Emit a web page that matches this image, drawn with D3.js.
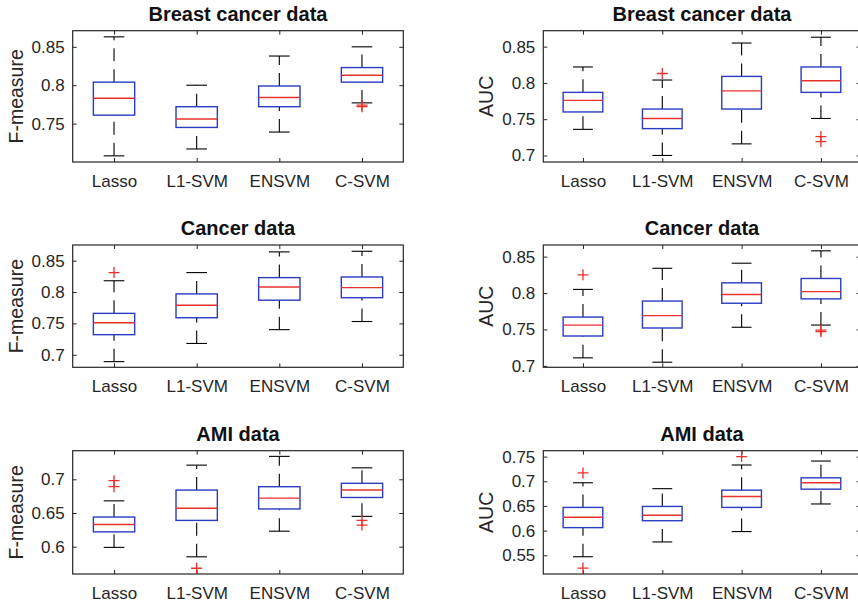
<!DOCTYPE html>
<html>
<head>
<meta charset="utf-8">
<script src="https://cdn.jsdelivr.net/npm/d3@7"></script>
<style>
  body { margin: 0; background: #fff; }
  svg { display: block; font-family: "Liberation Sans", Arial, Helvetica, sans-serif; }
</style>
</head>
<body>
<div id="chart"></div>
<script>
const width = 858;
const height = 605;

const methods = ["Lasso", "L1-SVM", "ENSVM", "C-SVM"];

// each row: [lower whisker, q1, median, q3, upper whisker]
const breastF = [
  [0.708, 0.761, 0.783, 0.804, 0.863],
  [0.717, 0.745, 0.756, 0.772, 0.800],
  [0.739, 0.772, 0.784, 0.799, 0.838],
  [0.777, 0.804, 0.813, 0.823, 0.850]
];
const breastFOut = [[], [], [], [0.774, 0.772]];

const breastAUC = [
  [0.736, 0.760, 0.776, 0.787, 0.822],
  [0.700, 0.737, 0.751, 0.764, 0.804],
  [0.716, 0.764, 0.789, 0.809, 0.855],
  [0.751, 0.787, 0.803, 0.822, 0.863]
];
const breastAUCOut = [[], [0.813], [], [0.726, 0.719]];

const cancerF = [
  [0.689, 0.732, 0.751, 0.766, 0.818],
  [0.718, 0.759, 0.779, 0.797, 0.831],
  [0.740, 0.787, 0.808, 0.823, 0.864],
  [0.753, 0.791, 0.807, 0.824, 0.865]
];
const cancerFOut = [[0.831], [], [], []];

const cancerAUC = [
  [0.711, 0.741, 0.756, 0.767, 0.805],
  [0.705, 0.752, 0.769, 0.789, 0.834],
  [0.753, 0.786, 0.798, 0.814, 0.841],
  [0.756, 0.792, 0.802, 0.820, 0.858]
];
const cancerAUCOut = [[0.825], [], [], [0.749, 0.747]];

const amiF = [
  [0.599, 0.622, 0.633, 0.644, 0.668],
  [0.585, 0.639, 0.657, 0.684, 0.721],
  [0.623, 0.656, 0.672, 0.689, 0.734],
  [0.645, 0.673, 0.684, 0.694, 0.717]
];
const amiFOut = [[0.698, 0.689], [0.568], [], [0.639, 0.632]];

const amiAUC = [
  [0.547, 0.606, 0.627, 0.647, 0.697],
  [0.577, 0.620, 0.631, 0.649, 0.685],
  [0.598, 0.647, 0.669, 0.682, 0.733],
  [0.654, 0.684, 0.697, 0.707, 0.741]
];
const amiAUCOut = [[0.717, 0.524], [], [0.750], []];

// y axis extents and ticks
const breastFDomain = [0.700, 0.871];
const breastAUCDomain = [0.691, 0.872];
const cancerFDomain = [0.680, 0.875];
const cancerAUCDomain = [0.698, 0.866];
const amiFDomain = [0.5595, 0.7424];
const amiAUCDomain = [0.512, 0.762];

const breastFTicks = [0.75, 0.8, 0.85];
const breastAUCTicks = [0.7, 0.75, 0.8, 0.85];
const cancerFTicks = [0.7, 0.75, 0.8, 0.85];
const cancerAUCTicks = [0.7, 0.75, 0.8, 0.85];
const amiFTicks = [0.6, 0.65, 0.7];
const amiAUCTicks = [0.55, 0.6, 0.65, 0.7, 0.75];

const titles = ["Breast cancer data", "Cancer data", "AMI data"];
const yLabels = ["F-measure", "AUC"];

const panels = [
  { row: 0, col: 0, stats: breastF, out: breastFOut, domain: breastFDomain, ticks: breastFTicks },
  { row: 0, col: 1, stats: breastAUC, out: breastAUCOut, domain: breastAUCDomain, ticks: breastAUCTicks },
  { row: 1, col: 0, stats: cancerF, out: cancerFOut, domain: cancerFDomain, ticks: cancerFTicks },
  { row: 1, col: 1, stats: cancerAUC, out: cancerAUCOut, domain: cancerAUCDomain, ticks: cancerAUCTicks },
  { row: 2, col: 0, stats: amiF, out: amiFOut, domain: amiFDomain, ticks: amiFTicks },
  { row: 2, col: 1, stats: amiAUC, out: amiAUCOut, domain: amiAUCDomain, ticks: amiAUCTicks }
];

const cols = [
  { x0: 72.7, x1: 403.3, labelX: 22.7 },
  { x0: 543.3, x1: 860.6, labelX: 492.7 }
];
const rows = [
  { y0: 30.7, y1: 162 },
  { y0: 245, y1: 367.3 },
  { y0: 450.7, y1: 574 }
];

const axisColor = "#262626";
const boxColor = "#2a3cc0";
const medColor = "#e8302c";
const fmt = (d) => String(+d.toFixed(2));

const svg = d3.select("#chart").append("svg")
  .attr("width", width)
  .attr("height", height);

panels.forEach((p) => drawPanel(p));

function drawPanel(p) {
  const c = cols[p.col];
  const r = rows[p.row];

  const x = d3.scalePoint().domain(methods).range([c.x0, c.x1]).padding(0.5);
  const y = d3.scaleLinear().domain(p.domain).range([r.y1, r.y0]);
  const step = x.step();
  const bw = step * 0.5;

  const g = svg.append("g");

  // axes with inward ticks
  const left = g.append("g")
    .attr("transform", "translate(" + c.x0 + ",0)")
    .call(d3.axisLeft(y).tickValues(p.ticks).tickFormat(fmt).tickSize(-4).tickPadding(8));
  g.append("g")
    .attr("transform", "translate(" + c.x1 + ",0)")
    .call(d3.axisRight(y).tickValues(p.ticks).tickFormat("").tickSize(-4));
  const bottom = g.append("g")
    .attr("transform", "translate(0," + r.y1 + ")")
    .call(d3.axisBottom(x).tickSize(-4).tickPadding(13));
  g.append("g")
    .attr("transform", "translate(0," + r.y0 + ")")
    .call(d3.axisTop(x).tickFormat("").tickSize(-4));

  g.selectAll(".domain").remove();
  g.selectAll(".tick line").attr("stroke", axisColor).attr("stroke-width", 1);
  g.selectAll(".tick text").attr("fill", axisColor).style("font-size", "17px");

  g.append("rect")
    .attr("x", c.x0)
    .attr("y", r.y0)
    .attr("width", c.x1 - c.x0)
    .attr("height", r.y1 - r.y0)
    .attr("fill", "none")
    .attr("stroke", axisColor)
    .attr("stroke-width", 1.2);

  // title and y label
  g.append("text")
    .attr("x", (c.x0 + c.x1) / 2)
    .attr("y", r.y0 - 10)
    .attr("text-anchor", "middle")
    .attr("fill", "#111")
    .style("font-size", "20px")
    .style("font-weight", "bold")
    .text(titles[p.row]);

  g.append("text")
    .attr("transform", "translate(" + c.labelX + "," + (r.y0 + r.y1) / 2 + ") rotate(-90)")
    .attr("text-anchor", "middle")
    .attr("fill", axisColor)
    .style("font-size", "19.5px")
    .text(yLabels[p.col]);

  const boxes = g.selectAll(".box")
    .data(p.stats.map((s, i) => ({ m: methods[i], s: s, out: p.out[i] })))
    .enter()
    .append("g")
    .attr("class", "box");

  // whiskers, drawn from the low end upward like matlab does
  boxes.append("line")
    .attr("x1", (d) => x(d.m)).attr("x2", (d) => x(d.m))
    .attr("y1", (d) => y(d.s[0])).attr("y2", (d) => y(d.s[1]))
    .attr("stroke", "#000").attr("stroke-width", 1.1)
    .attr("stroke-dasharray", "13,8");
  boxes.append("line")
    .attr("x1", (d) => x(d.m)).attr("x2", (d) => x(d.m))
    .attr("y1", (d) => y(d.s[3])).attr("y2", (d) => y(d.s[4]))
    .attr("stroke", "#000").attr("stroke-width", 1.1)
    .attr("stroke-dasharray", "13,8");

  // caps
  [0, 4].forEach((k) => {
    boxes.append("line")
      .attr("x1", (d) => x(d.m) - bw / 4).attr("x2", (d) => x(d.m) + bw / 4)
      .attr("y1", (d) => y(d.s[k])).attr("y2", (d) => y(d.s[k]))
      .attr("stroke", "#000").attr("stroke-width", 1.1);
  });

  boxes.append("rect")
    .attr("x", (d) => x(d.m) - bw / 2)
    .attr("y", (d) => y(d.s[3]))
    .attr("width", bw)
    .attr("height", (d) => y(d.s[1]) - y(d.s[3]))
    .attr("fill", "none")
    .attr("stroke", boxColor)
    .attr("stroke-width", 1.4);

  boxes.append("line")
    .attr("x1", (d) => x(d.m) - bw / 2).attr("x2", (d) => x(d.m) + bw / 2)
    .attr("y1", (d) => y(d.s[2])).attr("y2", (d) => y(d.s[2]))
    .attr("stroke", medColor).attr("stroke-width", 1.4);

  // outliers as red plus signs
  boxes.selectAll(".out")
    .data((d) => d.out.map((v) => ({ m: d.m, v: v })))
    .enter()
    .append("path")
    .attr("class", "out")
    .attr("d", (d) => {
      const cx = x(d.m), cy = y(d.v), h = 5.5;
      return "M" + (cx - h) + "," + cy + "H" + (cx + h) + "M" + cx + "," + (cy - h) + "V" + (cy + h);
    })
    .attr("stroke", medColor)
    .attr("stroke-width", 1.3)
    .attr("fill", "none");
}
</script>
</body>
</html>
